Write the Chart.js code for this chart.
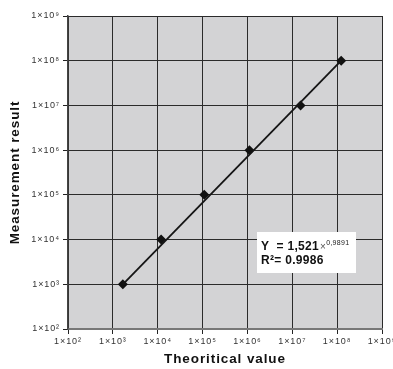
<!DOCTYPE html>
<html>
<head>
  <meta charset="utf-8">
  <script src="https://cdn.jsdelivr.net/npm/chart.js@4.4.1/dist/chart.umd.min.js"></script>
  <style>
    body { margin: 0; background: #fff; }
  </style>
</head>
<body>
  <canvas id="graph" width="393" height="369"></canvas>

  <script>
    // decade ticks shared by both axes
    var decades = [1e2, 1e3, 1e4, 1e5, 1e6, 1e7, 1e8, 1e9];
    var tickLabels = ['1×10²', '1×10³', '1×10⁴', '1×10⁵', '1×10⁶', '1×10⁷', '1×10⁸', '1×10⁹'];

    // measured points
    var theoretical = [1.67e3, 1.19e4, 1.09e5, 1.11e6, 1.53e7, 1.23e8];
    var measured = [1e3, 1e4, 1e5, 1e6, 1e7, 1e8];

    // fitted line, end points
    var trendX = [1.67e3, 1.23e8];
    var trendY = [1e3, 1e8];

    var fitText = 'Y  = 1,521';
    var fitPower = '0,9891';
    var r2Text = 'R²= 0.9986';

    var fontFam = '"Liberation Sans", Arial, sans-serif';

    var plotBg = {
      id: 'plotBg',
      beforeDraw: function(c) {
        var ctx = c.ctx, a = c.chartArea;
        ctx.save();
        ctx.fillStyle = '#d3d3d5';
        ctx.fillRect(a.left, a.top, a.right - a.left, a.bottom - a.top);
        ctx.restore();
        ctx.letterSpacing = '0.9px';
      },
      afterDraw: function(c) {
        var ctx = c.ctx, a = c.chartArea;
        ctx.letterSpacing = '0px';
        ctx.save();
        var bx = a.left + 189, by = a.top + 216;
        ctx.fillStyle = '#fff';
        ctx.fillRect(bx, by, 99, 41);
        ctx.letterSpacing = '0.3px';
        ctx.fillStyle = '#111';
        ctx.textBaseline = 'alphabetic';
        ctx.font = 'bold 12px ' + fontFam;
        var tx = bx + 4;
        ctx.fillText(fitText, tx, by + 18);
        var w = ctx.measureText(fitText).width;
        ctx.font = '10px ' + fontFam;
        ctx.fillStyle = '#555';
        ctx.fillText('×', tx + w + 1, by + 18);
        var w2 = ctx.measureText('×').width;
        ctx.font = '7px ' + fontFam;
        ctx.fillStyle = '#222';
        ctx.fillText(fitPower, tx + w + w2 + 1, by + 13);
        ctx.font = 'bold 12px ' + fontFam;
        ctx.fillStyle = '#111';
        ctx.fillText(r2Text, tx, by + 32);
        ctx.restore();
      }
    };

    function decadeTicks(scale) {
      scale.ticks = decades.map(function(v) { return { value: v }; });
    }

    var ctx = document.getElementById('graph');
    var chart = new Chart(ctx, {
      type: 'scatter',
      data: {
        datasets: [{
          label: 'fit',
          data: trendX.map(function(x, i) { return { x: x, y: trendY[i] }; }),
          showLine: true,
          borderColor: '#151515',
          borderWidth: 1.8,
          pointRadius: 0
        }, {
          label: 'measured',
          data: theoretical.map(function(x, i) { return { x: x, y: measured[i] }; }),
          pointStyle: 'rectRot',
          pointRadius: 5,
          backgroundColor: '#111',
          borderColor: '#111',
          borderWidth: 0
        }]
      },
      options: {
        responsive: false,
        animation: false,
        layout: { padding: { left: 0, right: 11, top: 16, bottom: 0 } },
        plugins: { legend: { display: false }, tooltip: { enabled: false } },
        scales: {
          x: {
            type: 'logarithmic',
            min: 1e2,
            max: 1e9,
            afterBuildTicks: decadeTicks,
            afterFit: function(s) { s.height = 40; s.paddingLeft = 0; s.paddingRight = 0; },
            ticks: {
              autoSkip: false,
              maxRotation: 0,
              padding: 2,
              color: '#333',
              font: { family: fontFam, size: 9 },
              callback: function(v, i) { return tickLabels[i]; }
            },
            grid: { color: '#2b2b2b', lineWidth: 1, tickLength: 5, tickColor: '#222' },
            border: { color: '#777', width: 2 },
            title: {
              display: true,
              text: 'Theoritical value',
              color: '#111',
              font: { family: fontFam, size: 13.5, weight: 'bold' },
              padding: { top: 0, bottom: 2 }
            }
          },
          y: {
            type: 'logarithmic',
            min: 1e2,
            max: 1e9,
            afterBuildTicks: decadeTicks,
            afterFit: function(s) { s.width = 68; s.paddingTop = 0; s.paddingBottom = 0; },
            ticks: {
              autoSkip: false,
              padding: 3,
              color: '#333',
              font: { family: fontFam, size: 9 },
              callback: function(v, i) { return tickLabels[i]; }
            },
            grid: { color: '#2b2b2b', lineWidth: 1, tickLength: 5, tickColor: '#222' },
            border: { color: '#444', width: 1.5 },
            title: {
              display: true,
              text: 'Measurement result',
              color: '#111',
              font: { family: fontFam, size: 13.5, weight: 'bold' },
              padding: { top: 7, bottom: 0 }
            }
          }
        }
      },
      plugins: [plotBg]
    });
  </script>
</body>
</html>
